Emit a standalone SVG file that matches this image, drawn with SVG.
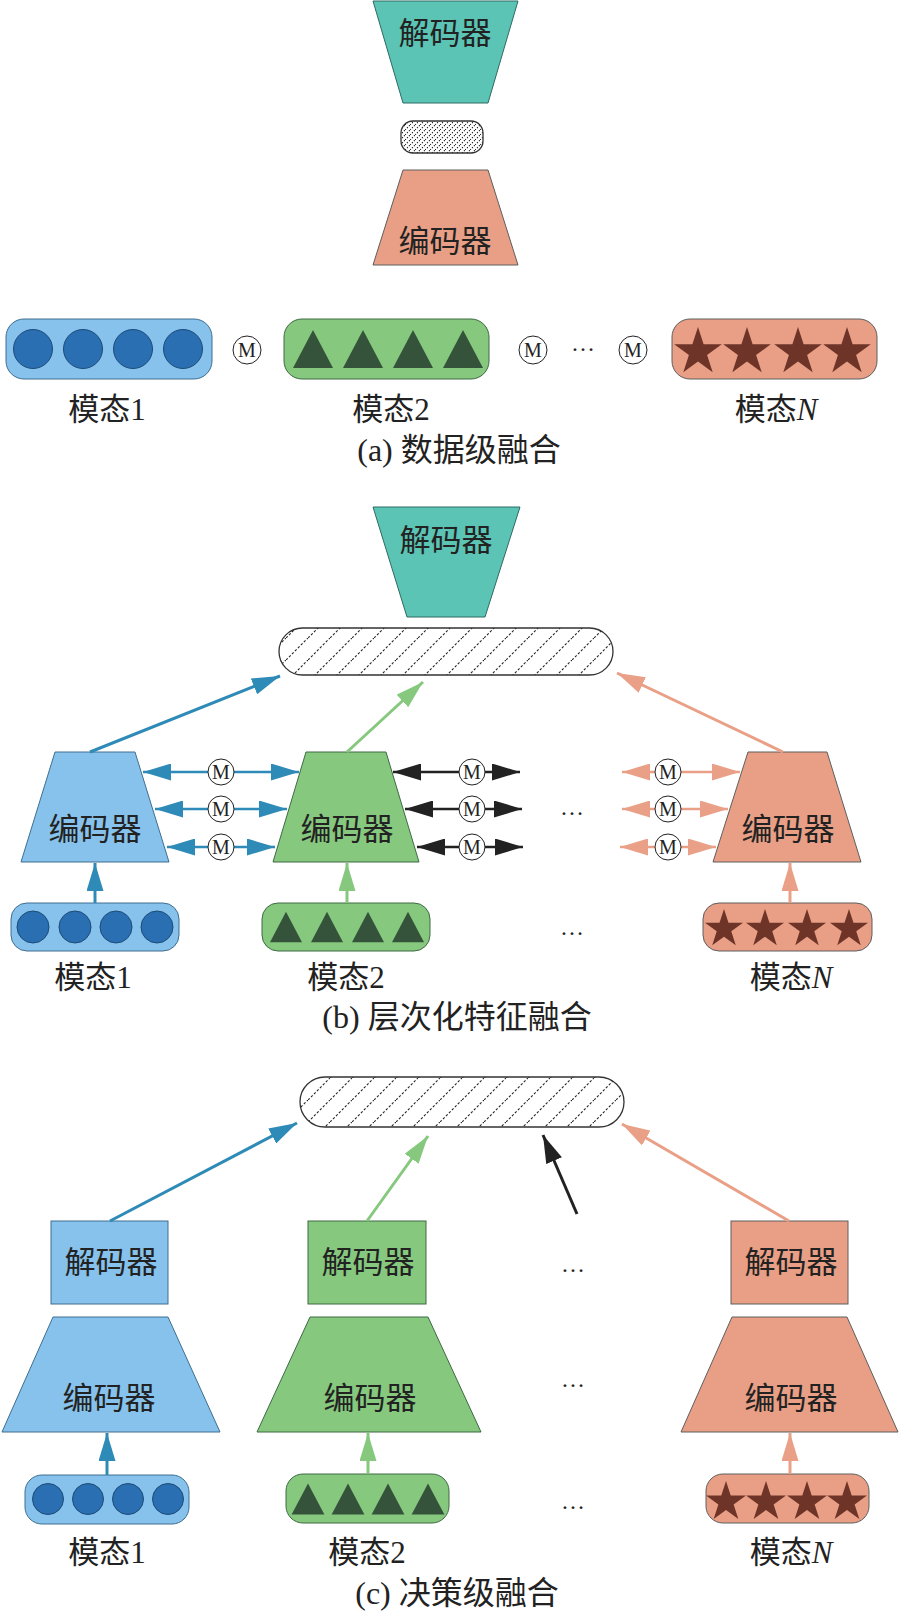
<svg xmlns="http://www.w3.org/2000/svg" xmlns:xlink="http://www.w3.org/1999/xlink" width="900" height="1613" viewBox="0 0 900 1613">
<style>
.t{font-family:"Liberation Serif","Noto Sans CJK SC",serif;font-size:31px;fill:#222;text-anchor:middle}
.cap{font-size:32px}
.dots{font-family:"Liberation Serif",serif;font-size:24px;fill:#222;text-anchor:middle}
.mt{font-family:"Liberation Serif",serif;font-size:20px;fill:#222;text-anchor:middle}
.teal{fill:#5bc4b5;stroke:#2f6a62;stroke-width:1}
.sal{fill:#e89f85;stroke:#5e5e5e;stroke-width:1}
.blu{fill:#86c2ec;stroke:#3f6e90;stroke-width:1}
.grn{fill:#86c87e;stroke:#3e6a45;stroke-width:1}
.circ{fill:#2a6fb2;stroke:#1d4b78;stroke-width:1}
.tri{fill:#34533a}
.star{fill:#6e3428}
.hatch{fill:url(#hatch);stroke:#333;stroke-width:1.3}
.stip{fill:url(#stip);stroke:#333;stroke-width:1.3}
.mc{fill:#fff;stroke:#222;stroke-width:1}
.a-b{stroke:#2e8ab6;fill:none;marker-end:url(#mb)}
.a-g{stroke:#86c87e;fill:none;marker-end:url(#mg)}
.a-s{stroke:#e9a086;fill:none;marker-end:url(#ms)}
.a-k{stroke:#222;fill:none;marker-end:url(#mk)}
.d{stroke-width:3}
.hb{stroke:#2e8ab6;stroke-width:2.5;fill:none;marker-start:url(#mb);marker-end:url(#mb)}
.hk{stroke:#222;stroke-width:2.5;fill:none;marker-start:url(#mk);marker-end:url(#mk)}
.hs{stroke:#e9a086;stroke-width:2.5;fill:none;marker-start:url(#ms);marker-end:url(#ms)}
</style>
<defs>
<marker id="mb" markerUnits="userSpaceOnUse" markerWidth="28" markerHeight="17" viewBox="0 0 28 17" refX="28" refY="8.5" orient="auto-start-reverse"><path d="M0,0 L28,8.5 L0,17 Z" fill="#2e8ab6"/></marker>
<marker id="mg" markerUnits="userSpaceOnUse" markerWidth="28" markerHeight="17" viewBox="0 0 28 17" refX="28" refY="8.5" orient="auto-start-reverse"><path d="M0,0 L28,8.5 L0,17 Z" fill="#86c87e"/></marker>
<marker id="ms" markerUnits="userSpaceOnUse" markerWidth="28" markerHeight="17" viewBox="0 0 28 17" refX="28" refY="8.5" orient="auto-start-reverse"><path d="M0,0 L28,8.5 L0,17 Z" fill="#e9a086"/></marker>
<marker id="mk" markerUnits="userSpaceOnUse" markerWidth="28" markerHeight="17" viewBox="0 0 28 17" refX="28" refY="8.5" orient="auto-start-reverse"><path d="M0,0 L28,8.5 L0,17 Z" fill="#222"/></marker>
<pattern id="hatch" patternUnits="userSpaceOnUse" width="22" height="22"><path d="M0,22 L22,0" stroke="#222" stroke-width="1.1" stroke-dasharray="2.4 1.8"/></pattern>
<pattern id="stip" patternUnits="userSpaceOnUse" width="5" height="5"><path d="M0,5 L5,0" stroke="#222" stroke-width="1.1" stroke-dasharray="1.3 1.5"/></pattern>
<path id="star" d="M0,-10 L2.245,-3.09 L9.511,-3.09 L3.633,1.18 L5.878,8.09 L0,3.82 L-5.878,8.09 L-3.633,1.18 L-9.511,-3.09 L-2.245,-3.09 Z"/>
<path id="tri" d="M0,-19 L20,19 L-20,19 Z"/>
</defs>

<!-- ===== (a) data-level fusion ===== -->
<g id="a-decoder"><polygon class="teal" points="373,1 518,1 488,103 403,103"/><text class="t" x="445" y="44">解码器</text></g>
<g id="a-feature"><rect class="stip" x="401" y="121" width="82" height="32" rx="12"/></g>
<g id="a-encoder"><polygon class="sal" points="403,170 488,170 518,265 373,265"/><text class="t" x="445" y="252">编码器</text></g>
<g id="a-mod1">
<rect class="blu" x="6" y="319" width="206" height="60" rx="18"/>
<circle class="circ" cx="33" cy="349" r="19.5"/><circle class="circ" cx="83" cy="349" r="19.5"/><circle class="circ" cx="133" cy="349" r="19.5"/><circle class="circ" cx="183" cy="349" r="19.5"/>
<text class="t" x="107" y="420">模态1</text>
</g>
<g id="a-m1"><circle class="mc" cx="247" cy="350" r="14"/><text class="mt" x="247" y="357">M</text></g>
<g id="a-mod2">
<rect class="grn" x="284" y="319" width="205" height="60" rx="18"/>
<use href="#tri" class="tri" x="313" y="349"/><use href="#tri" class="tri" x="363" y="349"/><use href="#tri" class="tri" x="413" y="349"/><use href="#tri" class="tri" x="463" y="349"/>
<text class="t" x="391" y="420">模态2</text>
</g>
<g id="a-m2"><circle class="mc" cx="533" cy="350" r="14"/><text class="mt" x="533" y="357">M</text></g>
<text class="dots" x="583" y="351">…</text>
<g id="a-m3"><circle class="mc" cx="633" cy="350" r="14"/><text class="mt" x="633" y="357">M</text></g>
<g id="a-modN">
<rect class="sal" x="672" y="319" width="205" height="60" rx="18"/>
<use href="#star" class="star" transform="translate(698,352) scale(2.5)"/><use href="#star" class="star" transform="translate(747,352) scale(2.5)"/><use href="#star" class="star" transform="translate(798,352) scale(2.5)"/><use href="#star" class="star" transform="translate(847,352) scale(2.5)"/>
<text class="t" x="776" y="420">模态<tspan font-style="italic">N</tspan></text>
</g>
<text class="t cap" x="459" y="461">(a) 数据级融合</text>

<!-- ===== (b) hierarchical feature fusion ===== -->
<g id="b-decoder"><polygon class="teal" points="373,507 520,507 485,617 407,617"/><text class="t" x="446" y="551">解码器</text></g>
<g id="b-feature"><rect class="hatch" x="279" y="628" width="334" height="47" rx="23.5"/></g>
<g id="b-enc1"><polygon class="blu" points="55,752 135,752 169,862 21,862"/><text class="t" x="95" y="840">编码器</text></g>
<g id="b-enc2"><polygon class="grn" points="306,752 386,752 419,862 273,862"/><text class="t" x="347" y="840">编码器</text></g>
<g id="b-encN"><polygon class="sal" points="748,752 827,752 861,862 713,862"/><text class="t" x="788" y="840">编码器</text></g>
<g id="b-mod1">
<rect class="blu" x="11" y="903" width="168" height="48" rx="16"/>
<circle class="circ" cx="33" cy="927" r="16"/><circle class="circ" cx="75" cy="927" r="16"/><circle class="circ" cx="116" cy="927" r="16"/><circle class="circ" cx="157" cy="927" r="16"/>
<text class="t" x="93" y="988">模态1</text>
</g>
<g id="b-mod2">
<rect class="grn" x="262" y="903" width="168" height="48" rx="16"/>
<use href="#tri" class="tri" transform="translate(286,927) scale(0.8)"/><use href="#tri" class="tri" transform="translate(327,927) scale(0.8)"/><use href="#tri" class="tri" transform="translate(368,927) scale(0.8)"/><use href="#tri" class="tri" transform="translate(408,927) scale(0.8)"/>
<text class="t" x="346" y="988">模态2</text>
</g>
<g id="b-modN">
<rect class="sal" x="703" y="903" width="169" height="48" rx="16"/>
<use href="#star" class="star" transform="translate(724,929) scale(2)"/><use href="#star" class="star" transform="translate(765,929) scale(2)"/><use href="#star" class="star" transform="translate(807,929) scale(2)"/><use href="#star" class="star" transform="translate(849,929) scale(2)"/>
<text class="t" x="791" y="988">模态<tspan font-style="italic">N</tspan></text>
</g>
<text class="dots" x="572" y="815">…</text>
<text class="dots" x="572" y="935">…</text>

<g id="b-connectors">
<path class="a-b d" d="M90,752 L280,676"/>
<path class="a-g d" d="M347,752 L423,682"/>
<path class="a-s d" d="M783,752 L617,673"/>
<path class="a-b d" d="M95,903 L95,863"/>
<path class="a-g d" d="M347,903 L347,863"/>
<path class="a-s d" d="M790,903 L790,863"/>
<path class="hb" d="M143,772 L299,772"/>
<path class="hb" d="M155,809 L287,809"/>
<path class="hb" d="M167,847 L275,847"/>
<path class="hk" d="M393,772 L520,772"/>
<path class="hk" d="M405,809 L522,809"/>
<path class="hk" d="M417,847 L523,847"/>
<path class="hs" d="M622,772 L740,772"/>
<path class="hs" d="M622,809 L728,809"/>
<path class="hs" d="M620,847 L716,847"/>
</g>
<g id="b-ops">
<circle class="mc" cx="221" cy="772" r="13"/><text class="mt" x="221" y="779">M</text>
<circle class="mc" cx="221" cy="809" r="13"/><text class="mt" x="221" y="816">M</text>
<circle class="mc" cx="221" cy="847" r="13"/><text class="mt" x="221" y="854">M</text>
<circle class="mc" cx="472" cy="772" r="13"/><text class="mt" x="472" y="779">M</text>
<circle class="mc" cx="472" cy="809" r="13"/><text class="mt" x="472" y="816">M</text>
<circle class="mc" cx="472" cy="847" r="13"/><text class="mt" x="472" y="854">M</text>
<circle class="mc" cx="668" cy="772" r="13"/><text class="mt" x="668" y="779">M</text>
<circle class="mc" cx="668" cy="809" r="13"/><text class="mt" x="668" y="816">M</text>
<circle class="mc" cx="668" cy="847" r="13"/><text class="mt" x="668" y="854">M</text>
</g>
<text class="t cap" x="457" y="1028">(b) 层次化特征融合</text>

<!-- ===== (c) decision-level fusion ===== -->
<g id="c-feature"><rect class="hatch" x="300" y="1077" width="324" height="50" rx="25"/></g>
<g id="c-dec1"><rect class="blu" x="51" y="1221" width="117" height="83"/><text class="t" x="111" y="1273">解码器</text></g>
<g id="c-dec2"><rect class="grn" x="308" y="1221" width="118" height="83"/><text class="t" x="368" y="1273">解码器</text></g>
<g id="c-decN"><rect class="sal" x="731" y="1221" width="117" height="83"/><text class="t" x="791" y="1273">解码器</text></g>
<g id="c-enc1"><polygon class="blu" points="53,1317 168,1317 220,1432 2,1432"/><text class="t" x="109" y="1409">编码器</text></g>
<g id="c-enc2"><polygon class="grn" points="310,1317 428,1317 481,1432 257,1432"/><text class="t" x="370" y="1409">编码器</text></g>
<g id="c-encN"><polygon class="sal" points="732,1317 847,1317 898,1432 681,1432"/><text class="t" x="791" y="1409">编码器</text></g>
<g id="c-mod1">
<rect class="blu" x="25" y="1475" width="164" height="49" rx="17"/>
<circle class="circ" cx="48" cy="1499" r="15.5"/><circle class="circ" cx="88" cy="1499" r="15.5"/><circle class="circ" cx="128" cy="1499" r="15.5"/><circle class="circ" cx="168" cy="1499" r="15.5"/>
<text class="t" x="107" y="1563">模态1</text>
</g>
<g id="c-mod2">
<rect class="grn" x="286" y="1474" width="163" height="49" rx="17"/>
<use href="#tri" class="tri" transform="translate(308,1499) scale(0.82)"/><use href="#tri" class="tri" transform="translate(348,1499) scale(0.82)"/><use href="#tri" class="tri" transform="translate(388,1499) scale(0.82)"/><use href="#tri" class="tri" transform="translate(428,1499) scale(0.82)"/>
<text class="t" x="367" y="1563">模态2</text>
</g>
<g id="c-modN">
<rect class="sal" x="706" y="1474" width="163" height="49" rx="17"/>
<use href="#star" class="star" transform="translate(726,1502) scale(2.1)"/><use href="#star" class="star" transform="translate(766,1502) scale(2.1)"/><use href="#star" class="star" transform="translate(807,1502) scale(2.1)"/><use href="#star" class="star" transform="translate(847,1502) scale(2.1)"/>
<text class="t" x="791" y="1563">模态<tspan font-style="italic">N</tspan></text>
</g>
<text class="dots" x="573" y="1272">…</text>
<text class="dots" x="573" y="1387">…</text>
<text class="dots" x="573" y="1509">…</text>
<g id="c-connectors">
<path class="a-b d" d="M110,1221 L297,1123"/>
<path class="a-g d" d="M367,1221 L428,1136"/>
<path class="a-k d" d="M577,1214 L543,1135"/>
<path class="a-s d" d="M789,1221 L622,1124"/>
<path class="a-b d" d="M107,1475 L107,1433"/>
<path class="a-g d" d="M368,1474 L368,1433"/>
<path class="a-s d" d="M790,1474 L790,1433"/>
</g>
<text class="t cap" x="457" y="1604">(c) 决策级融合</text>
</svg>
